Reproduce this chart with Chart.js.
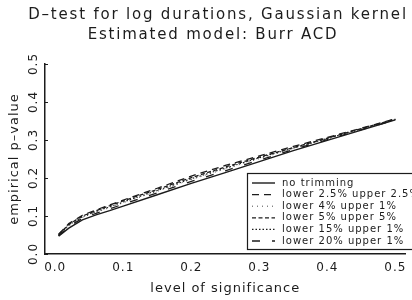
<!DOCTYPE html>
<html>
<head>
<meta charset="utf-8">
<script src="https://cdn.jsdelivr.net/npm/chart.js@4"></script>
<style>
  html, body { margin: 0; padding: 0; background: #ffffff; }
  #wrap { width: 412px; height: 300px; }
</style>
</head>
<body>
<div id="wrap"><canvas id="chart"></canvas></div>
<script>
const titleLines = ['D\u2013test for log durations, Gaussian kernel', 'Estimated model: Burr ACD'];
const yTitle = 'empirical p\u2013value';
const xTitle = 'level of significance';
const tickValues = [0, 0.1, 0.2, 0.3, 0.4, 0.5];
const tickLabels = ['0.0', '0.1', '0.2', '0.3', '0.4', '0.5'];

// level of significance
const levels = [0.005, 0.02, 0.04, 0.06, 0.08, 0.1, 0.15, 0.2, 0.25, 0.3, 0.35, 0.4, 0.45, 0.5];

// empirical p-values per trimming scheme
const noTrim   = [0.047, 0.068, 0.090, 0.103, 0.114, 0.126, 0.156, 0.186, 0.214, 0.243, 0.272, 0.299, 0.326, 0.353];
const trim25   = [0.052, 0.080, 0.102, 0.116, 0.129, 0.142, 0.173, 0.205, 0.233, 0.258, 0.283, 0.307, 0.331, 0.356];
const trim4_1  = [0.049, 0.074, 0.096, 0.110, 0.122, 0.135, 0.165, 0.196, 0.224, 0.251, 0.278, 0.303, 0.328, 0.354];
const trim5_5  = [0.051, 0.078, 0.100, 0.114, 0.127, 0.140, 0.170, 0.201, 0.229, 0.255, 0.280, 0.305, 0.330, 0.355];
const trim15_1 = [0.050, 0.076, 0.098, 0.112, 0.124, 0.137, 0.167, 0.198, 0.226, 0.253, 0.279, 0.304, 0.329, 0.354];
const trim20_1 = [0.048, 0.072, 0.094, 0.107, 0.119, 0.131, 0.161, 0.191, 0.219, 0.247, 0.275, 0.301, 0.327, 0.353];

const seriesNames = [
    'no trimming',
    'lower 2.5% upper 2.5%',
    'lower 4% upper 1%',
    'lower 5% upper 5%',
    'lower 15% upper 1%',
    'lower 20% upper 1%'
];
const seriesValues = [noTrim, trim25, trim4_1, trim5_5, trim15_1, trim20_1];

const ink = '#1c1c1c';
const dashes = [[], [7, 5], [1, 4], [4, 2.5], [1.5, 2], [8, 12]];
const widths = [1.4, 1.3, 0.8, 1.3, 1.1, 1.3];

const toPoints = (vals) => levels.map((x, i) => ({x: x, y: vals[i]}));

const datasets = seriesNames.map((name, i) => ({
    label: name,
    data: toPoints(seriesValues[i]),
    showLine: true,
    borderColor: ink,
    borderWidth: widths[i],
    borderDash: dashes[i],
    pointRadius: 0,
    fill: false,
    tension: 0
}));

// title, inward y ticks and the boxed legend
const paperPlugin = {
    id: 'paper',
    beforeDraw(chart) {
        // the old plotter font runs wide
        chart.ctx.letterSpacing = '1px';
    },
    afterDraw(chart) {
        const ctx = chart.ctx;
        const area = chart.chartArea;
        const y = chart.scales.y;
        ctx.save();
        ctx.fillStyle = ink;
        ctx.textAlign = 'center';
        ctx.textBaseline = 'middle';
        ctx.font = '15px "DejaVu Sans"';
        ctx.letterSpacing = '1.8px';
        ctx.fillText(titleLines[0], 218, 15);
        ctx.fillText(titleLines[1], 213, 35);

        ctx.strokeStyle = ink;
        ctx.lineWidth = 1;
        for (const v of tickValues) {
            const py = Math.round(y.getPixelForValue(v)) + 0.5;
            ctx.beginPath();
            ctx.moveTo(area.left, py);
            ctx.lineTo(area.left + 3, py);
            ctx.stroke();
        }

        // legend box
        const bx = 247, by = 173, bw = 180, bh = 76;
        ctx.fillStyle = '#ffffff';
        ctx.fillRect(bx, by, bw, bh);
        ctx.lineWidth = 1.2;
        ctx.strokeRect(bx + 0.5, by + 0.5, bw, bh);

        ctx.font = '10px "DejaVu Sans"';
        ctx.letterSpacing = '1px';
        ctx.textAlign = 'left';
        ctx.fillStyle = ink;
        chart.data.datasets.forEach((ds, i) => {
            const ly = by + 10 + i * 11.6;
            ctx.save();
            ctx.setLineDash(ds.borderDash);
            ctx.lineWidth = ds.borderWidth;
            ctx.beginPath();
            ctx.moveTo(bx + 5, ly);
            ctx.lineTo(bx + 28, ly);
            ctx.stroke();
            ctx.restore();
            ctx.fillText(ds.label, bx + 35, ly);
        });
        ctx.restore();
    }
};

new Chart(document.getElementById('chart'), {
    type: 'scatter',
    data: {datasets: datasets},
    options: {
        responsive: true,
        maintainAspectRatio: false,
        animation: false,
        layout: {padding: {top: 64, right: 2, left: 0, bottom: 0}},
        plugins: {
            legend: {display: false},
            tooltip: {enabled: false},
            title: {display: false}
        },
        scales: {
            x: {
                type: 'linear',
                min: -0.015,
                max: 0.515,
                afterBuildTicks: (scale) => {
                    scale.ticks = tickValues.map((v) => ({value: v}));
                },
                afterFit: (scale) => { scale.height = 46; },
                grid: {display: false, drawTicks: false},
                border: {display: true, color: ink, width: 1.5},
                ticks: {
                    color: ink,
                    padding: 7,
                    font: {family: 'DejaVu Sans', size: 12},
                    callback: (v) => tickLabels[tickValues.indexOf(v)] ?? ''
                },
                title: {
                    display: true,
                    text: xTitle,
                    color: ink,
                    font: {family: 'DejaVu Sans', size: 13},
                    padding: {top: 0, bottom: 4}
                }
            },
            y: {
                type: 'linear',
                min: 0,
                max: 0.5,
                afterBuildTicks: (scale) => {
                    scale.ticks = tickValues.map((v) => ({value: v}));
                },
                afterFit: (scale) => { scale.width = 45; },
                grid: {display: false, drawTicks: false},
                border: {display: true, color: ink, width: 1.5},
                ticks: {
                    color: ink,
                    padding: 2,
                    minRotation: 90,
                    maxRotation: 90,
                    crossAlign: 'center',
                    font: {family: 'DejaVu Sans', size: 12},
                    callback: (v) => tickLabels[tickValues.indexOf(v)] ?? ''
                },
                title: {
                    display: true,
                    text: yTitle,
                    color: ink,
                    font: {family: 'DejaVu Sans', size: 13},
                    padding: {top: 7, bottom: 0}
                }
            }
        }
    },
    plugins: [paperPlugin]
});
</script>
</body>
</html>
